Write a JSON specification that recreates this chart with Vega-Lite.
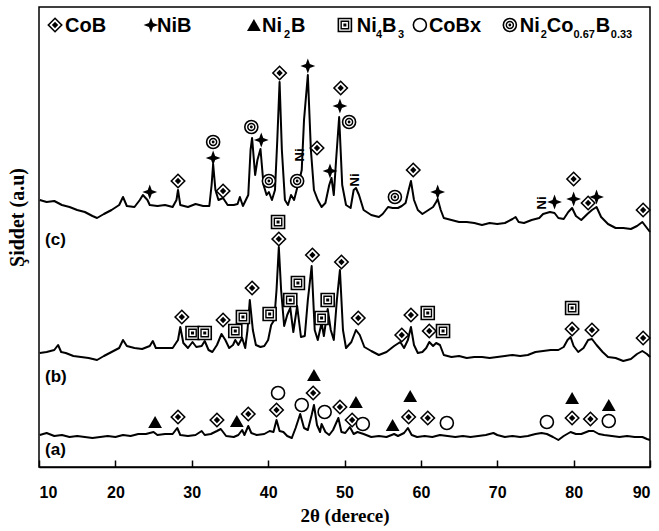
{
"$schema": "https://vega.github.io/schema/vega-lite/v6.json",
"width": 611, "height": 460,
"autosize": {"type": "none"},
"padding": {"left": 39, "top": 7, "right": 9, "bottom": 64},
"background": "white",
"config": {"view": {"stroke": "black", "strokeWidth": 1.5}, "axis": {"grid": false}},
"datasets": {
"xrd": [
{"p":"c","t":10.1,"i":267},{"p":"c","t":11,"i":265},{"p":"c","t":12,"i":266},{"p":"c","t":13,"i":262},{"p":"c","t":14,"i":260},{"p":"c","t":15,"i":257},{"p":"c","t":16,"i":255},{"p":"c","t":17,"i":251},{"p":"c","t":17.6,"i":249},{"p":"c","t":18.5,"i":253},{"p":"c","t":19.5,"i":257},{"p":"c","t":20.5,"i":262},{"p":"c","t":21,"i":270},{"p":"c","t":21.5,"i":261},{"p":"c","t":22.5,"i":260},{"p":"c","t":23.2,"i":267},{"p":"c","t":23.6,"i":272},{"p":"c","t":24.2,"i":267},{"p":"c","t":24.5,"i":262},{"p":"c","t":25.5,"i":261},{"p":"c","t":26.5,"i":262},{"p":"c","t":27.5,"i":260},{"p":"c","t":28.0,"i":267},{"p":"c","t":28.2,"i":277},{"p":"c","t":28.5,"i":262},{"p":"c","t":29.5,"i":260},{"p":"c","t":30.5,"i":263},{"p":"c","t":31.5,"i":261},{"p":"c","t":32.3,"i":261},{"p":"c","t":32.6,"i":282},{"p":"c","t":32.8,"i":303},{"p":"c","t":33.1,"i":277},{"p":"c","t":33.5,"i":267},{"p":"c","t":34.1,"i":269},{"p":"c","t":34.7,"i":262},{"p":"c","t":35.5,"i":262},{"p":"c","t":36.0,"i":263},{"p":"c","t":36.3,"i":270},{"p":"c","t":36.7,"i":261},{"p":"c","t":37.4,"i":272},{"p":"c","t":37.7,"i":317},{"p":"c","t":37.9,"i":329},{"p":"c","t":38.3,"i":292},{"p":"c","t":38.6,"i":307},{"p":"c","t":39.0,"i":318},{"p":"c","t":39.4,"i":282},{"p":"c","t":39.8,"i":272},{"p":"c","t":40.1,"i":275},{"p":"c","t":40.5,"i":267},{"p":"c","t":40.9,"i":277},{"p":"c","t":41.2,"i":327},{"p":"c","t":41.5,"i":385},{"p":"c","t":41.8,"i":317},{"p":"c","t":42.2,"i":267},{"p":"c","t":42.6,"i":262},{"p":"c","t":43.0,"i":272},{"p":"c","t":43.4,"i":267},{"p":"c","t":43.8,"i":279},{"p":"c","t":44.1,"i":287},{"p":"c","t":44.4,"i":297},{"p":"c","t":44.7,"i":347},{"p":"c","t":45.2,"i":392},{"p":"c","t":45.6,"i":317},{"p":"c","t":46.0,"i":277},{"p":"c","t":46.5,"i":267},{"p":"c","t":47.0,"i":260},{"p":"c","t":47.5,"i":264},{"p":"c","t":48.0,"i":282},{"p":"c","t":48.3,"i":289},{"p":"c","t":48.6,"i":272},{"p":"c","t":48.9,"i":307},{"p":"c","t":49.3,"i":350},{"p":"c","t":49.7,"i":282},{"p":"c","t":50.2,"i":262},{"p":"c","t":50.8,"i":259},{"p":"c","t":51.2,"i":277},{"p":"c","t":51.5,"i":279},{"p":"c","t":51.9,"i":272},{"p":"c","t":52.5,"i":257},{"p":"c","t":53.5,"i":252},{"p":"c","t":54.5,"i":250},{"p":"c","t":55.0,"i":253},{"p":"c","t":55.7,"i":260},{"p":"c","t":56.3,"i":259},{"p":"c","t":57.0,"i":259},{"p":"c","t":57.5,"i":261},{"p":"c","t":58.0,"i":264},{"p":"c","t":58.4,"i":277},{"p":"c","t":58.7,"i":286},{"p":"c","t":59.1,"i":267},{"p":"c","t":59.6,"i":257},{"p":"c","t":60.2,"i":253},{"p":"c","t":61.0,"i":257},{"p":"c","t":61.6,"i":260},{"p":"c","t":62.0,"i":265},{"p":"c","t":62.2,"i":268},{"p":"c","t":62.6,"i":257},{"p":"c","t":63.0,"i":249},{"p":"c","t":64.0,"i":247},{"p":"c","t":65.0,"i":245},{"p":"c","t":66.0,"i":245},{"p":"c","t":67.0,"i":244},{"p":"c","t":68.0,"i":242},{"p":"c","t":69.0,"i":244},{"p":"c","t":70.0,"i":243},{"p":"c","t":71.0,"i":244},{"p":"c","t":72.0,"i":248},{"p":"c","t":72.4,"i":250},{"p":"c","t":72.8,"i":245},{"p":"c","t":73.5,"i":244},{"p":"c","t":74.5,"i":247},{"p":"c","t":75.5,"i":249},{"p":"c","t":76.0,"i":253},{"p":"c","t":76.9,"i":255},{"p":"c","t":77.5,"i":254},{"p":"c","t":78.0,"i":249},{"p":"c","t":78.7,"i":248},{"p":"c","t":79.3,"i":255},{"p":"c","t":79.8,"i":259},{"p":"c","t":80.3,"i":251},{"p":"c","t":81.0,"i":247},{"p":"c","t":81.8,"i":253},{"p":"c","t":82.4,"i":257},{"p":"c","t":83.0,"i":260},{"p":"c","t":83.6,"i":250},{"p":"c","t":84.5,"i":243},{"p":"c","t":85.5,"i":239},{"p":"c","t":86.5,"i":239},{"p":"c","t":87.5,"i":238},{"p":"c","t":88.3,"i":241},{"p":"c","t":89.0,"i":245},{"p":"c","t":89.5,"i":240},{"p":"c","t":90.0,"i":235},
{"p":"b","t":10.1,"i":114},{"p":"b","t":11,"i":115},{"p":"b","t":12,"i":117},{"p":"b","t":12.5,"i":122},{"p":"b","t":12.9,"i":115},{"p":"b","t":13.5,"i":114},{"p":"b","t":14.5,"i":111},{"p":"b","t":15.5,"i":110},{"p":"b","t":16.5,"i":109},{"p":"b","t":17.6,"i":107},{"p":"b","t":18.5,"i":111},{"p":"b","t":19.5,"i":115},{"p":"b","t":20.5,"i":119},{"p":"b","t":21.0,"i":127},{"p":"b","t":21.5,"i":121},{"p":"b","t":22.5,"i":119},{"p":"b","t":23.5,"i":118},{"p":"b","t":24.5,"i":121},{"p":"b","t":24.9,"i":126},{"p":"b","t":25.3,"i":119},{"p":"b","t":26.5,"i":119},{"p":"b","t":27.5,"i":119},{"p":"b","t":28.2,"i":127},{"p":"b","t":28.5,"i":140},{"p":"b","t":28.9,"i":124},{"p":"b","t":29.5,"i":119},{"p":"b","t":30.1,"i":125},{"p":"b","t":30.6,"i":120},{"p":"b","t":31.3,"i":121},{"p":"b","t":31.7,"i":126},{"p":"b","t":32.2,"i":117},{"p":"b","t":32.7,"i":115},{"p":"b","t":33.3,"i":122},{"p":"b","t":33.9,"i":133},{"p":"b","t":34.4,"i":127},{"p":"b","t":34.9,"i":119},{"p":"b","t":35.4,"i":122},{"p":"b","t":35.7,"i":127},{"p":"b","t":36.1,"i":122},{"p":"b","t":36.6,"i":129},{"p":"b","t":37.0,"i":119},{"p":"b","t":37.3,"i":137},{"p":"b","t":37.6,"i":167},{"p":"b","t":38.0,"i":137},{"p":"b","t":38.4,"i":122},{"p":"b","t":39.0,"i":120},{"p":"b","t":39.5,"i":121},{"p":"b","t":40.0,"i":127},{"p":"b","t":40.4,"i":142},{"p":"b","t":40.8,"i":147},{"p":"b","t":41.1,"i":177},{"p":"b","t":41.4,"i":220},{"p":"b","t":41.7,"i":177},{"p":"b","t":42.1,"i":141},{"p":"b","t":42.5,"i":152},{"p":"b","t":42.9,"i":159},{"p":"b","t":43.3,"i":135},{"p":"b","t":43.8,"i":161},{"p":"b","t":44.3,"i":130},{"p":"b","t":44.8,"i":131},{"p":"b","t":45.2,"i":167},{"p":"b","t":45.7,"i":201},{"p":"b","t":46.1,"i":137},{"p":"b","t":46.5,"i":127},{"p":"b","t":47.0,"i":144},{"p":"b","t":47.3,"i":131},{"p":"b","t":47.8,"i":158},{"p":"b","t":48.2,"i":137},{"p":"b","t":48.6,"i":127},{"p":"b","t":49.0,"i":167},{"p":"b","t":49.4,"i":197},{"p":"b","t":49.8,"i":137},{"p":"b","t":50.2,"i":119},{"p":"b","t":50.9,"i":125},{"p":"b","t":51.5,"i":137},{"p":"b","t":52.0,"i":132},{"p":"b","t":52.6,"i":120},{"p":"b","t":53.5,"i":116},{"p":"b","t":54.5,"i":112},{"p":"b","t":55.5,"i":115},{"p":"b","t":56.5,"i":121},{"p":"b","t":57.3,"i":125},{"p":"b","t":57.8,"i":119},{"p":"b","t":58.3,"i":127},{"p":"b","t":58.7,"i":140},{"p":"b","t":59.1,"i":122},{"p":"b","t":59.6,"i":114},{"p":"b","t":60.2,"i":115},{"p":"b","t":60.7,"i":119},{"p":"b","t":61.1,"i":125},{"p":"b","t":61.6,"i":121},{"p":"b","t":62.0,"i":124},{"p":"b","t":62.5,"i":122},{"p":"b","t":63.0,"i":112},{"p":"b","t":64.0,"i":110},{"p":"b","t":65.0,"i":111},{"p":"b","t":66.0,"i":109},{"p":"b","t":67.0,"i":110},{"p":"b","t":68.0,"i":110},{"p":"b","t":69.0,"i":109},{"p":"b","t":70.0,"i":110},{"p":"b","t":71.0,"i":111},{"p":"b","t":72.0,"i":112},{"p":"b","t":73.0,"i":111},{"p":"b","t":74.0,"i":112},{"p":"b","t":75.0,"i":115},{"p":"b","t":76.0,"i":116},{"p":"b","t":77.0,"i":117},{"p":"b","t":78.0,"i":117},{"p":"b","t":78.7,"i":120},{"p":"b","t":79.2,"i":127},{"p":"b","t":79.6,"i":130},{"p":"b","t":80.0,"i":121},{"p":"b","t":80.6,"i":115},{"p":"b","t":81.3,"i":119},{"p":"b","t":81.9,"i":127},{"p":"b","t":82.4,"i":128},{"p":"b","t":83.0,"i":122},{"p":"b","t":83.8,"i":115},{"p":"b","t":84.5,"i":110},{"p":"b","t":85.5,"i":109},{"p":"b","t":86.5,"i":106},{"p":"b","t":87.5,"i":108},{"p":"b","t":88.3,"i":113},{"p":"b","t":89.0,"i":116},{"p":"b","t":89.6,"i":113},{"p":"b","t":90.0,"i":110},
{"p":"a","t":10.1,"i":32},{"p":"a","t":11,"i":34},{"p":"a","t":12,"i":31},{"p":"a","t":13,"i":32},{"p":"a","t":14,"i":30},{"p":"a","t":15,"i":31},{"p":"a","t":16,"i":30},{"p":"a","t":17,"i":29},{"p":"a","t":18,"i":30},{"p":"a","t":19,"i":31},{"p":"a","t":20,"i":30},{"p":"a","t":21,"i":32},{"p":"a","t":22,"i":31},{"p":"a","t":23,"i":33},{"p":"a","t":24,"i":33},{"p":"a","t":25,"i":35},{"p":"a","t":25.5,"i":32},{"p":"a","t":26.5,"i":33},{"p":"a","t":27.5,"i":33},{"p":"a","t":28.1,"i":39},{"p":"a","t":28.5,"i":32},{"p":"a","t":29.5,"i":31},{"p":"a","t":30.5,"i":32},{"p":"a","t":31.3,"i":36},{"p":"a","t":31.7,"i":32},{"p":"a","t":32.5,"i":33},{"p":"a","t":33.3,"i":36},{"p":"a","t":33.8,"i":38},{"p":"a","t":34.5,"i":31},{"p":"a","t":35.5,"i":30},{"p":"a","t":36.1,"i":32},{"p":"a","t":36.6,"i":37},{"p":"a","t":36.9,"i":32},{"p":"a","t":37.4,"i":41},{"p":"a","t":37.8,"i":34},{"p":"a","t":38.5,"i":32},{"p":"a","t":39.5,"i":33},{"p":"a","t":40.2,"i":36},{"p":"a","t":40.7,"i":35},{"p":"a","t":41.1,"i":47},{"p":"a","t":41.5,"i":36},{"p":"a","t":42.0,"i":35},{"p":"a","t":42.5,"i":31},{"p":"a","t":43.1,"i":29},{"p":"a","t":43.6,"i":39},{"p":"a","t":44.2,"i":53},{"p":"a","t":44.7,"i":39},{"p":"a","t":45.2,"i":37},{"p":"a","t":45.7,"i":52},{"p":"a","t":46.0,"i":62},{"p":"a","t":46.4,"i":42},{"p":"a","t":46.8,"i":35},{"p":"a","t":47.0,"i":43},{"p":"a","t":47.5,"i":35},{"p":"a","t":48.0,"i":32},{"p":"a","t":48.5,"i":37},{"p":"a","t":49.2,"i":49},{"p":"a","t":49.6,"i":35},{"p":"a","t":50.1,"i":34},{"p":"a","t":50.7,"i":40},{"p":"a","t":51.2,"i":33},{"p":"a","t":51.7,"i":35},{"p":"a","t":52.5,"i":33},{"p":"a","t":53.5,"i":30},{"p":"a","t":54.5,"i":31},{"p":"a","t":55.5,"i":30},{"p":"a","t":56.5,"i":33},{"p":"a","t":57.0,"i":31},{"p":"a","t":57.8,"i":34},{"p":"a","t":58.3,"i":39},{"p":"a","t":58.8,"i":32},{"p":"a","t":59.5,"i":30},{"p":"a","t":60.5,"i":31},{"p":"a","t":61.5,"i":30},{"p":"a","t":62.5,"i":32},{"p":"a","t":63.5,"i":31},{"p":"a","t":64.5,"i":30},{"p":"a","t":65.5,"i":31},{"p":"a","t":66.5,"i":30},{"p":"a","t":67.5,"i":31},{"p":"a","t":68.5,"i":32},{"p":"a","t":69.5,"i":34},{"p":"a","t":70.0,"i":32},{"p":"a","t":71.0,"i":30},{"p":"a","t":72.0,"i":31},{"p":"a","t":73.0,"i":30},{"p":"a","t":74.0,"i":31},{"p":"a","t":75.0,"i":33},{"p":"a","t":75.8,"i":34},{"p":"a","t":76.5,"i":33},{"p":"a","t":77.3,"i":30},{"p":"a","t":78.0,"i":27},{"p":"a","t":78.7,"i":31},{"p":"a","t":79.6,"i":35},{"p":"a","t":80.3,"i":33},{"p":"a","t":81.0,"i":33},{"p":"a","t":82.0,"i":36},{"p":"a","t":82.6,"i":36},{"p":"a","t":83.3,"i":33},{"p":"a","t":84.0,"i":32},{"p":"a","t":85.0,"i":31},{"p":"a","t":86.0,"i":30},{"p":"a","t":87.0,"i":31},{"p":"a","t":88.0,"i":30},{"p":"a","t":89.0,"i":30},{"p":"a","t":89.6,"i":28},{"p":"a","t":90.0,"i":27}
],
"markers": [
{"k":"star","t":24.5,"i":275},{"k":"dia","t":28.2,"i":286},{"k":"star","t":32.8,"i":309},{"k":"dc","t":32.8,"i":325},{"k":"dia","t":34.1,"i":276},{"k":"dc","t":37.8,"i":340},{"k":"star","t":39.1,"i":327},{"k":"dc","t":40.1,"i":286},{"k":"dia","t":41.5,"i":394},{"k":"dc","t":43.8,"i":286},{"k":"star","t":45.2,"i":401},{"k":"dia","t":46.4,"i":319},{"k":"star","t":48.1,"i":296},{"k":"dia","t":49.5,"i":379},{"k":"star","t":49.4,"i":361},{"k":"dc","t":50.6,"i":345},{"k":"dc","t":56.6,"i":270},{"k":"dia","t":59.0,"i":297},{"k":"star","t":62.2,"i":275},{"k":"star","t":77.5,"i":265},{"k":"dia","t":80.0,"i":288},{"k":"star","t":80.0,"i":268},{"k":"dia","t":81.9,"i":264},{"k":"star","t":83.0,"i":270},{"k":"dia","t":89.1,"i":257},
{"k":"dia","t":28.7,"i":150},{"k":"sq","t":30.1,"i":134},{"k":"sq","t":31.7,"i":134},{"k":"dia","t":34.1,"i":147},{"k":"sq","t":35.7,"i":136},{"k":"sq","t":36.7,"i":150},{"k":"dia","t":37.9,"i":179},{"k":"sq","t":40.2,"i":153},{"k":"sq","t":41.3,"i":245},{"k":"dia","t":41.4,"i":228},{"k":"sq","t":42.9,"i":167},{"k":"sq","t":43.9,"i":184},{"k":"dia","t":45.8,"i":212},{"k":"sq","t":47.0,"i":149},{"k":"sq","t":47.8,"i":167},{"k":"dia","t":49.6,"i":205},{"k":"dia","t":51.8,"i":149},{"k":"dia","t":57.5,"i":132},{"k":"dia","t":58.7,"i":152},{"k":"sq","t":60.9,"i":154},{"k":"dia","t":61.1,"i":136},{"k":"sq","t":62.9,"i":136},{"k":"sq","t":79.8,"i":159},{"k":"dia","t":79.8,"i":138},{"k":"dia","t":82.4,"i":137},{"k":"dia","t":89.1,"i":129},
{"k":"tri","t":25.2,"i":45},{"k":"dia","t":28.2,"i":50},{"k":"dia","t":33.3,"i":47},{"k":"tri","t":35.9,"i":46},{"k":"dia","t":37.4,"i":53},{"k":"dia","t":41.1,"i":57},{"k":"circ","t":41.3,"i":74},{"k":"circ","t":44.4,"i":62},{"k":"dia","t":45.9,"i":74},{"k":"tri","t":46.0,"i":92},{"k":"circ","t":47.4,"i":55},{"k":"dia","t":49.4,"i":60},{"k":"tri","t":51.5,"i":65},{"k":"dia","t":51.0,"i":47},{"k":"circ","t":52.4,"i":43},{"k":"tri","t":56.3,"i":42},{"k":"dia","t":58.4,"i":50},{"k":"tri","t":58.6,"i":71},{"k":"dia","t":60.9,"i":49},{"k":"circ","t":63.4,"i":44},{"k":"circ","t":76.5,"i":45},{"k":"dia","t":79.8,"i":49},{"k":"tri","t":79.8,"i":69},{"k":"dia","t":82.2,"i":48},{"k":"tri","t":84.6,"i":62},{"k":"circ","t":84.6,"i":46},
{"k":"dia","t":12.1,"i":442},{"k":"star","t":24.66,"i":442},{"k":"tri","t":38.14,"i":442},{"k":"sq","t":50.05,"i":442},{"k":"circ","t":59.87,"i":442},{"k":"dc","t":71.65,"i":442}
],
"texts": [
{"k":"main","t":13.4,"i":435,"s":"CoB"},{"k":"main","t":25.45,"i":435,"s":"NiB"},
{"k":"main","t":39.19,"i":435,"s":"Ni"},{"k":"sub","t":42.07,"i":429,"s":"2"},{"k":"main","t":42.98,"i":435,"s":"B"},
{"k":"main","t":51.62,"i":435,"s":"Ni"},{"k":"sub","t":54.11,"i":429,"s":"4"},{"k":"main","t":54.9,"i":435,"s":"B"},{"k":"sub","t":56.99,"i":429,"s":"3"},
{"k":"main","t":61.05,"i":435,"s":"CoBx"},
{"k":"main","t":72.96,"i":435,"s":"Ni"},{"k":"sub","t":75.7,"i":429,"s":"2"},{"k":"main","t":76.49,"i":435,"s":"Co"},{"k":"sub","t":79.98,"i":429,"s":"0.67"},{"k":"main","t":82.9,"i":435,"s":"B"},{"k":"sub","t":84.87,"i":429,"s":"0.33"},
{"k":"panel","t":10.79,"i":222,"s":"(c)"},{"k":"panel","t":10.79,"i":85,"s":"(b)"},{"k":"panel","t":10.79,"i":12,"s":"(a)"},
{"k":"ni","t":44.2,"i":312,"s":"Ni"},{"k":"ni","t":51.4,"i":287,"s":"Ni"},{"k":"ni","t":75.8,"i":264,"s":"Ni"}
]
},
"layer": [
{"data": {"name": "xrd"},
 "mark": {"type": "line", "color": "black", "strokeWidth": 2, "strokeJoin": "round"},
 "encoding": {
  "x": {"field": "t", "type": "quantitative", "scale": {"domain": [10, 90], "nice": false},
   "axis": {"values": [10,15,20,25,30,35,40,45,50,55,60,65,70,75,80,85,90],
    "labelExpr": "datum.value % 10 === 0 ? datum.label : ''",
    "tickSize": {"condition": {"test": "datum.value % 10 === 0", "value": -7}, "value": 5},
    "tickColor": "black", "tickWidth": 1.5, "domainColor": "black", "domainWidth": 1.5,
    "labelFont": "Liberation Sans", "labelFontWeight": "bold", "labelFontSize": 16, "labelColor": "black", "labelPadding": 24,
    "title": "2θ (derece)", "titleFont": "Liberation Serif", "titleFontWeight": "bold", "titleFontSize": 19, "titleColor": "black", "titlePadding": 6}},
  "y": {"field": "i", "type": "quantitative", "scale": {"domain": [0, 460], "nice": false},
   "axis": {"labels": false, "ticks": false, "domain": false,
    "title": "Şiddet (a.u)", "titleFont": "Liberation Serif", "titleFontWeight": "bold", "titleFontSize": 20, "titleColor": "black", "titlePadding": 12, "titleY": 210}},
  "detail": {"field": "p"}}},
{"data": {"name": "markers"}, "transform": [{"filter": "datum.k === 'dia'"}],
 "mark": {"type": "point", "shape": "diamond", "size": 180, "filled": true, "fill": "white", "stroke": "black", "strokeWidth": 1.6, "opacity": 1},
 "encoding": {"x": {"field": "t", "type": "quantitative"}, "y": {"field": "i", "type": "quantitative"}}},
{"data": {"name": "markers"}, "transform": [{"filter": "datum.k === 'dia'"}],
 "mark": {"type": "point", "shape": "diamond", "size": 40, "filled": true, "color": "black", "opacity": 1},
 "encoding": {"x": {"field": "t", "type": "quantitative"}, "y": {"field": "i", "type": "quantitative"}}},
{"data": {"name": "markers"}, "transform": [{"filter": "datum.k === 'star'"}],
 "mark": {"type": "point", "shape": "M0,-1L0.27,-0.27L1,0L0.27,0.27L0,1L-0.27,0.27L-1,0L-0.27,-0.27Z", "size": 220, "filled": true, "color": "black", "opacity": 1},
 "encoding": {"x": {"field": "t", "type": "quantitative"}, "y": {"field": "i", "type": "quantitative"}}},
{"data": {"name": "markers"}, "transform": [{"filter": "datum.k === 'tri'"}],
 "mark": {"type": "point", "shape": "triangle-up", "size": 190, "filled": true, "color": "black", "opacity": 1},
 "encoding": {"x": {"field": "t", "type": "quantitative"}, "y": {"field": "i", "type": "quantitative"}}},
{"data": {"name": "markers"}, "transform": [{"filter": "datum.k === 'sq'"}],
 "mark": {"type": "point", "shape": "square", "size": 170, "filled": true, "fill": "white", "stroke": "black", "strokeWidth": 1.6, "opacity": 1},
 "encoding": {"x": {"field": "t", "type": "quantitative"}, "y": {"field": "i", "type": "quantitative"}}},
{"data": {"name": "markers"}, "transform": [{"filter": "datum.k === 'sq'"}],
 "mark": {"type": "point", "shape": "square", "size": 55, "filled": true, "fill": "white", "stroke": "black", "strokeWidth": 1.4, "opacity": 1},
 "encoding": {"x": {"field": "t", "type": "quantitative"}, "y": {"field": "i", "type": "quantitative"}}},
{"data": {"name": "markers"}, "transform": [{"filter": "datum.k === 'sq'"}],
 "mark": {"type": "point", "shape": "square", "size": 9, "filled": true, "color": "black", "opacity": 1},
 "encoding": {"x": {"field": "t", "type": "quantitative"}, "y": {"field": "i", "type": "quantitative"}}},
{"data": {"name": "markers"}, "transform": [{"filter": "datum.k === 'circ' || datum.k === 'dc'"}],
 "mark": {"type": "point", "shape": "circle", "size": 170, "filled": true, "fill": "white", "stroke": "black", "strokeWidth": 1.6, "opacity": 1},
 "encoding": {"x": {"field": "t", "type": "quantitative"}, "y": {"field": "i", "type": "quantitative"}}},
{"data": {"name": "markers"}, "transform": [{"filter": "datum.k === 'dc'"}],
 "mark": {"type": "point", "shape": "circle", "size": 50, "filled": true, "fill": "white", "stroke": "black", "strokeWidth": 1.4, "opacity": 1},
 "encoding": {"x": {"field": "t", "type": "quantitative"}, "y": {"field": "i", "type": "quantitative"}}},
{"data": {"name": "markers"}, "transform": [{"filter": "datum.k === 'dc'"}],
 "mark": {"type": "point", "shape": "circle", "size": 8, "filled": true, "color": "black", "opacity": 1},
 "encoding": {"x": {"field": "t", "type": "quantitative"}, "y": {"field": "i", "type": "quantitative"}}},
{"data": {"name": "texts"}, "transform": [{"filter": "datum.k === 'main'"}],
 "mark": {"type": "text", "align": "left", "baseline": "alphabetic", "font": "Liberation Sans", "fontWeight": "bold", "fontSize": 20, "color": "black"},
 "encoding": {"x": {"field": "t", "type": "quantitative"}, "y": {"field": "i", "type": "quantitative"}, "text": {"field": "s"}}},
{"data": {"name": "texts"}, "transform": [{"filter": "datum.k === 'sub'"}],
 "mark": {"type": "text", "align": "left", "baseline": "alphabetic", "font": "Liberation Sans", "fontWeight": "bold", "fontSize": 11, "color": "black"},
 "encoding": {"x": {"field": "t", "type": "quantitative"}, "y": {"field": "i", "type": "quantitative"}, "text": {"field": "s"}}},
{"data": {"name": "texts"}, "transform": [{"filter": "datum.k === 'panel'"}],
 "mark": {"type": "text", "align": "left", "baseline": "alphabetic", "font": "Liberation Sans", "fontWeight": "bold", "fontSize": 17, "color": "black"},
 "encoding": {"x": {"field": "t", "type": "quantitative"}, "y": {"field": "i", "type": "quantitative"}, "text": {"field": "s"}}},
{"data": {"name": "texts"}, "transform": [{"filter": "datum.k === 'ni'"}],
 "mark": {"type": "text", "align": "center", "baseline": "middle", "angle": 270, "font": "Liberation Sans", "fontWeight": "bold", "fontSize": 13, "color": "black"},
 "encoding": {"x": {"field": "t", "type": "quantitative"}, "y": {"field": "i", "type": "quantitative"}, "text": {"field": "s"}}}
]
}
